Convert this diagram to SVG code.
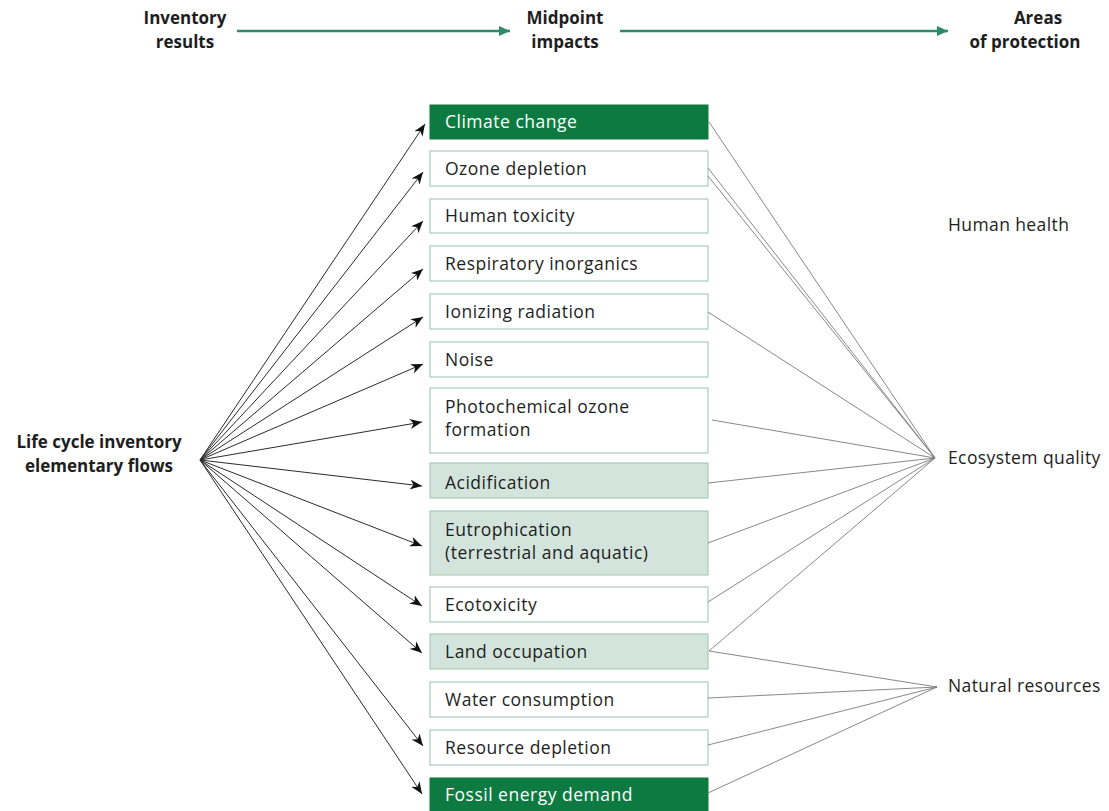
<svg xmlns="http://www.w3.org/2000/svg" width="1109" height="811" viewBox="0 0 1109 811">
<defs>
<style>
text{font-family:"Open Sans","Liberation Sans",sans-serif;fill:#1e1e1e}
.hd{font-weight:bold;font-size:17px;text-anchor:middle}
.lb{font-size:17.5px;letter-spacing:0.4px}
.bx text{font-size:17.5px;letter-spacing:0.5px}
.w rect{fill:#fff;stroke:#a9cbbb;stroke-width:1.2}
.l rect{fill:#d2e4dc;stroke:#a9cbbb;stroke-width:1.2}
.d rect{fill:#0d7b41;stroke:#0d7b41}
.d text{fill:#fff}
.in line{stroke:#2b2b2b;stroke-width:1;marker-end:url(#ah)}
.out line{stroke:#7a7a7a;stroke-width:0.9}
.top line{stroke:#2e8a68;stroke-width:2.5;marker-end:url(#gh)}
</style>
<marker id="ah" markerUnits="userSpaceOnUse" markerWidth="13" markerHeight="10" refX="12" refY="5" orient="auto">
<path d="M0,0 L12,5 L0,10 L3.5,5 z" fill="#111"/>
</marker>
<marker id="gh" markerUnits="userSpaceOnUse" markerWidth="12" markerHeight="10" refX="11" refY="5" orient="auto">
<path d="M0,0 L11,5 L0,10 z" fill="#2e8a68"/>
</marker>
</defs>
<rect width="1109" height="811" fill="#fff"/>
<g id="header">
<text class="hd" x="185" y="24">Inventory</text>
<text class="hd" x="185" y="48">results</text>
<text class="hd" x="565" y="24">Midpoint</text>
<text class="hd" x="565" y="48">impacts</text>
<text class="hd" x="1038" y="24">Areas</text>
<text class="hd" x="1025" y="48">of protection</text>
</g>
<g class="top" id="header-arrows">
<line x1="237" y1="31" x2="510" y2="31"/>
<line x1="620" y1="31" x2="948" y2="31"/>
</g>
<g id="source">
<text class="hd" x="99" y="448">Life cycle inventory</text>
<text class="hd" x="99" y="472">elementary flows</text>
</g>
<g id="aop-human-health"><text class="lb" x="948" y="231">Human health</text></g>
<g id="aop-ecosystem-quality"><text class="lb" x="948" y="464">Ecosystem quality</text></g>
<g id="aop-natural-resources"><text class="lb" x="948" y="692">Natural resources</text></g>
<g class="bx">
<g id="climate-change" class="d"><rect x="430" y="105" width="278" height="34"/><text x="445" y="128">Climate change</text></g>
<g id="ozone-depletion" class="w"><rect x="430" y="151" width="278" height="35"/><text x="445" y="175">Ozone depletion</text></g>
<g id="human-toxicity" class="w"><rect x="430" y="199" width="278" height="34"/><text x="445" y="222">Human toxicity</text></g>
<g id="respiratory-inorganics" class="w"><rect x="430" y="246" width="278" height="35"/><text x="445" y="270">Respiratory inorganics</text></g>
<g id="ionizing-radiation" class="w"><rect x="430" y="294" width="278" height="35"/><text x="445" y="318">Ionizing radiation</text></g>
<g id="noise" class="w"><rect x="430" y="342" width="278" height="35"/><text x="445" y="366">Noise</text></g>
<g id="photochemical" class="w"><rect x="430" y="388" width="278" height="65"/><text x="445" y="413">Photochemical ozone</text><text x="445" y="436">formation</text></g>
<g id="acidification" class="l"><rect x="430" y="463" width="278" height="35"/><text x="445" y="489">Acidification</text></g>
<g id="eutrophication" class="l"><rect x="430" y="511" width="278" height="64"/><text x="445" y="536">Eutrophication</text><text x="445" y="559">(terrestrial and aquatic)</text></g>
<g id="ecotoxicity" class="w"><rect x="430" y="587" width="278" height="35"/><text x="445" y="611">Ecotoxicity</text></g>
<g id="land-occupation" class="l"><rect x="430" y="634" width="278" height="35"/><text x="445" y="658">Land occupation</text></g>
<g id="water-consumption" class="w"><rect x="430" y="682" width="278" height="35"/><text x="445" y="706">Water consumption</text></g>
<g id="resource-depletion" class="w"><rect x="430" y="730" width="278" height="35"/><text x="445" y="754">Resource depletion</text></g>
<g id="fossil-energy-demand" class="d"><rect x="430" y="778" width="278" height="34"/><text x="445" y="801">Fossil energy demand</text></g>
</g>
<g id="connectors">
<g class="in">
<line x1="200" y1="460" x2="425" y2="124"/>
<line x1="200" y1="460" x2="423" y2="172"/>
<line x1="200" y1="460" x2="423" y2="221"/>
<line x1="200" y1="460" x2="423" y2="269"/>
<line x1="200" y1="460" x2="423" y2="317"/>
<line x1="200" y1="460" x2="423" y2="364"/>
<line x1="200" y1="460" x2="422" y2="422"/>
<line x1="200" y1="460" x2="422" y2="486"/>
<line x1="200" y1="460" x2="422" y2="546"/>
<line x1="200" y1="460" x2="422" y2="606"/>
<line x1="200" y1="460" x2="422" y2="653"/>
<line x1="200" y1="460" x2="423" y2="746"/>
<line x1="200" y1="460" x2="422" y2="794"/>
</g>
<g class="out">
<line x1="709" y1="122" x2="935" y2="458"/>
<line x1="708" y1="168" x2="935" y2="458"/>
<line x1="708" y1="176" x2="935" y2="458"/>
<line x1="708" y1="312" x2="935" y2="458"/>
<line x1="712" y1="420" x2="935" y2="458"/>
<line x1="708" y1="483" x2="935" y2="458"/>
<line x1="708" y1="543" x2="935" y2="458"/>
<line x1="708" y1="602" x2="935" y2="458"/>
<line x1="709" y1="651" x2="935" y2="458"/>
<line x1="709" y1="651" x2="937" y2="687"/>
<line x1="708" y1="698" x2="937" y2="687"/>
<line x1="708" y1="745" x2="937" y2="687"/>
<line x1="708" y1="793" x2="937" y2="687"/>
</g>
</g>
</svg>
